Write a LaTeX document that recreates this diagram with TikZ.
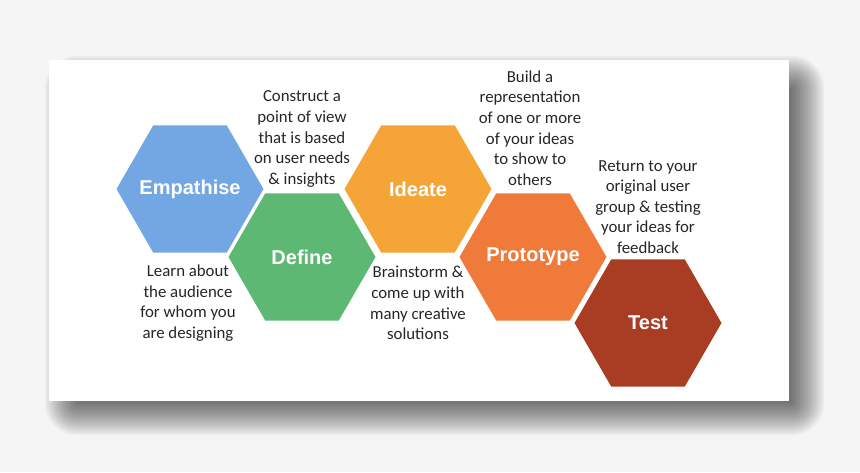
\documentclass[tikz,border=0pt]{standalone}
\usepackage{fontspec}
\setmainfont{Carlito}
\newfontfamily\hexfont{Liberation Sans}
\usetikzlibrary{shapes.geometric,positioning,calc}
\definecolor{bggray}{RGB}{245,245,245}
\definecolor{empblue}{RGB}{114,167,228}
\definecolor{defgreen}{RGB}{92,184,114}
\definecolor{ideorange}{RGB}{245,165,55}
\definecolor{protorange}{RGB}{240,122,58}
\definecolor{testred}{RGB}{168,61,36}
\definecolor{txtgray}{RGB}{38,38,38}

\begin{document}
\begin{tikzpicture}[x=1pt,y=-1pt,
  hex/.style={regular polygon,regular polygon sides=6,minimum size=147pt,inner sep=0pt},
  hexlbl/.style={text=white,inner sep=0pt,font=\hexfont\bfseries\fontsize{20}{24}\selectfont},
  note/.style={align=center,text=txtgray,inner sep=0pt,
               font=\fontsize{16.8}{20.6}\selectfont},
  card/.style={fill=white,minimum width=740pt,minimum height=341pt,inner sep=0pt}
]
% page, shadow and card
\fill[bggray] (0,0) rectangle (860,472);
\useasboundingbox (0,0) rectangle (860,472);
\coordinate (cardnw) at (49,60);
\coordinate (cardse) at (789,401);
\foreach \e in {0,2,...,32}
  \fill[black,opacity=0.04,rounded corners=\e pt]
    ($(cardnw)+(28-\e,28-\e)$) rectangle ($(cardse)+(3+\e,2+\e)$);
\node[card] (board) at ($(cardnw)!0.5!(cardse)$) {};

% the five stages
\node[hex,fill=empblue,label={[hexlbl]center:Empathise}]    (empathise) at (190,189) {};
\node[hex,fill=defgreen,label={[hexlbl]center:Define}]      (define)    at (302,257) {};
\node[hex,fill=ideorange,label={[hexlbl]center:Ideate}]     (ideate)    at (418,189) {};
\node[hex,fill=protorange,label={[hexlbl]center:Prototype}] (prototype) at (533,257) {};
\node[hex,fill=testred,label={[hexlbl]center:Test}]         (test)      at (648,323) {};

% notes next to each stage
\node[note] (learn)      at (188,303) {Learn about\\the audience\\for whom you\\are designing};
\node[note] (construct)  at (302,139) {Construct a\\point of view\\that is based\\on user needs\\\& insights};
\node[note] (brainstorm) at (418,303) {Brainstorm \&\\come up with\\many creative\\solutions};
\node[note] (build)      at (530,128) {Build a\\representation\\of one or more\\of your ideas\\to show to\\others};
\node[note] (return)     at (648,207) {Return to your\\original user\\group \& testing\\your ideas for\\feedback};
\end{tikzpicture}
\end{document}
